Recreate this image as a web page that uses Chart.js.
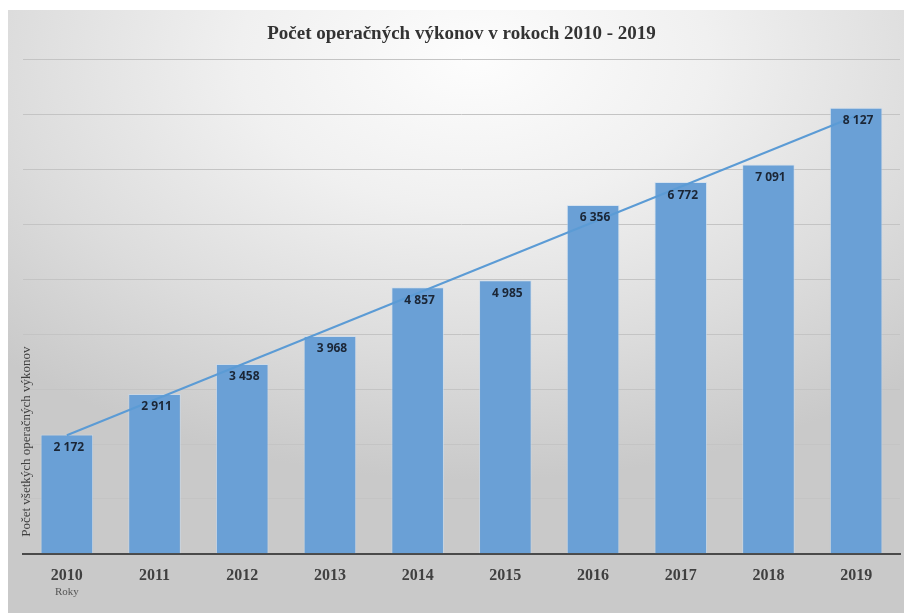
<!DOCTYPE html>
<html>
<head>
<meta charset="utf-8">
<script src="https://cdn.jsdelivr.net/npm/chart.js@4.4.1/dist/chart.umd.min.js"></script>
<style>
  html, body { margin: 0; padding: 0; background: #ffffff; }
  #wrap {
    position: absolute; left: 8px; top: 10px; width: 896px; height: 603px;
    background: radial-gradient(ellipse 75% 70% at 52% 8%, #fdfdfd 0%, #f0f0f0 35%, #dcdcdc 70%, #c9c9c9 100%);
  }
  canvas { display: block; }
</style>
</head>
<body>
<div id="wrap"><canvas id="c" width="896" height="603"></canvas></div>
<script>
const categories = ["2010","2011","2012","2013","2014","2015","2016","2017","2018","2019"];
const values = [2172, 2911, 3458, 3968, 4857, 4985, 6356, 6772, 7091, 8127];
const valueLabels = ["2 172","2 911","3 458","3 968","4 857","4 985","6 356","6 772","7 091","8 127"];
// trend line endpoints (straight line between them)
const trendValues = [2160, null, null, null, null, null, null, null, null, 7980];
const titleText = "Počet operačných výkonov v rokoch 2010 - 2019";
const yTitle = "Počet všetkých operačných výkonov";
const xTitle = "Roky";

const labelPlugin = {
  id: 'extras',
  afterDatasetsDraw(chart) {
    const ctx = chart.ctx;
    const meta = chart.getDatasetMeta(1);
    ctx.save();
    ctx.font = 'bold 12px "Open Sans", "Liberation Sans", sans-serif';
    ctx.fillStyle = '#1b2636';
    ctx.textAlign = 'center';
    ctx.textBaseline = 'middle';
    meta.data.forEach((bar, i) => {
      ctx.fillText(valueLabels[i], bar.x + 2, bar.y + 13);
    });
    ctx.restore();
  },
  afterDraw(chart) {
    const ctx = chart.ctx;
    const x = chart.scales.x;
    const y = chart.scales.y;
    ctx.save();
    // x-axis title under first category
    ctx.font = '11px "Liberation Serif", serif';
    ctx.fillStyle = '#555555';
    ctx.textAlign = 'center';
    ctx.textBaseline = 'middle';
    ctx.fillText(xTitle, x.getPixelForValue(0), y.bottom + 38);
    // y-axis title rotated, start aligned at bottom
    ctx.translate(19, y.bottom - 17);
    ctx.rotate(-Math.PI / 2);
    ctx.font = '13px "Liberation Serif", serif';
    ctx.fillStyle = '#404040';
    ctx.textAlign = 'left';
    ctx.textBaseline = 'middle';
    ctx.fillText(yTitle, 0, 0);
    ctx.restore();
  }
};

new Chart(document.getElementById('c'), {
  data: {
    labels: categories,
    datasets: [
      {
        type: 'line',
        data: trendValues,
        borderColor: '#5b9bd5',
        borderWidth: 2,
        pointRadius: 0,
        spanGaps: true,
        fill: false,
        order: 0
      },
      {
        type: 'bar',
        data: values,
        backgroundColor: '#6aa0d6',
        borderColor: 'rgba(200,220,240,0.6)',
        borderWidth: 1,
        categoryPercentage: 1.0,
        barPercentage: 0.6,
        order: 1
      }
    ]
  },
  options: {
    responsive: false,
    animation: false,
    layout: { padding: { left: 15, right: 4, top: 0, bottom: 24 } },
    plugins: {
      legend: { display: false },
      tooltip: { enabled: false },
      title: {
        display: true,
        text: titleText,
        color: '#333333',
        font: { family: '"Liberation Serif", serif', size: 19, weight: 'bold' },
        padding: { top: 13, bottom: 14 }
      }
    },
    scales: {
      x: {
        grid: { display: false },
        border: { display: true, color: '#4a4a4a', width: 2 },
        ticks: {
          color: '#404040',
          padding: 4,
          font: { family: '"Liberation Serif", serif', size: 16, weight: 'bold' }
        }
      },
      y: {
        min: 0, max: 9000,
        ticks: { display: false, stepSize: 1000 },
        grid: { color: '#c4c4c4', lineWidth: 1, drawTicks: false },
        border: { display: false }
      }
    }
  },
  plugins: [labelPlugin]
});
</script>
</body>
</html>
